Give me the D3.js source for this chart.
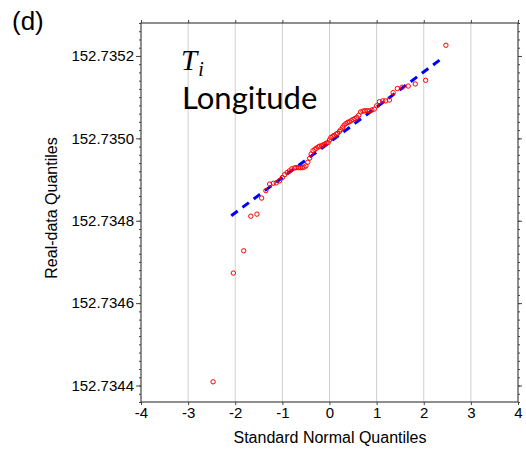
<!DOCTYPE html>
<html>
<head>
<meta charset="utf-8">
<script src="https://cdn.jsdelivr.net/npm/d3@7"></script>
<style>
  body { margin: 0; background: #fff; }
  text { font-family: "Liberation Sans", Arial, sans-serif; }
</style>
</head>
<body>
<div id="chart"></div>
<script>
// theoretical (standard normal) quantiles
const qx = [-2.47, -2.04, -1.82, -1.67, -1.54, -1.44, -1.35, -1.27, -1.19, -1.13,
  -1.06, -1.0, -0.95, -0.9, -0.85, -0.8, -0.75, -0.71, -0.66, -0.62,
  -0.58, -0.54, -0.5, -0.46, -0.42, -0.39, -0.35, -0.31, -0.28, -0.24,
  -0.21, -0.17, -0.14, -0.1, -0.07, -0.03, 0.0, 0.03, 0.07, 0.1,
  0.14, 0.17, 0.21, 0.24, 0.28, 0.31, 0.35, 0.39, 0.42, 0.46,
  0.5, 0.54, 0.58, 0.62, 0.66, 0.71, 0.75, 0.8, 0.85, 0.9,
  0.95, 1.0, 1.06, 1.13, 1.19, 1.27, 1.35, 1.44, 1.54, 1.67,
  1.82, 2.04, 2.47];
// sorted real data (longitude)
const qy = [152.734409, 152.734673, 152.734727, 152.734811, 152.734816, 152.734855, 152.734873, 152.734889, 152.734891, 152.734892,
  152.734897, 152.734905, 152.734912, 152.734917, 152.734921, 152.734926, 152.734928, 152.734929, 152.734929, 152.734929,
  152.734929, 152.734930, 152.734933, 152.734942, 152.734952, 152.734962, 152.734970, 152.734973, 152.734976, 152.734979,
  152.734981, 152.734982, 152.734984, 152.734986, 152.734988, 152.734990, 152.734996, 152.735002, 152.735005, 152.735007,
  152.735010, 152.735012, 152.735017, 152.735021, 152.735027, 152.735032, 152.735036, 152.735039, 152.735040, 152.735043,
  152.735046, 152.735048, 152.735051, 152.735056, 152.735064, 152.735066, 152.735067, 152.735067, 152.735067, 152.735069,
  152.735071, 152.735079, 152.735089, 152.735091, 152.735091, 152.735093, 152.735111, 152.735121, 152.735124, 152.735127,
  152.735132, 152.735141, 152.735226];
// reference line end points
const fitX = [-2.085, 2.43];
const fitY = [152.734812, 152.735198];

const xTicks = [-4, -3, -2, -1, 0, 1, 2, 3, 4];
const yTicks = [152.7344, 152.7346, 152.7348, 152.7350, 152.7352];
const yTickLabels = ['152.7344', '152.7346', '152.7348', '152.7350', '152.7352'];

const width = 526, height = 451;
const mLeft = 141, mRight = 518, mTop = 23, mBottom = 402;

const svg = d3.select('#chart').append('svg')
  .attr('width', width).attr('height', height);

const x = d3.scaleLinear().domain([-4, 4]).range([mLeft, mRight]);
const y = d3.scaleLinear().domain([152.73436, 152.73528]).range([mBottom, mTop]);

// vertical grid
svg.append('g').selectAll('line')
  .data(xTicks.slice(1, -1))
  .enter().append('line')
  .attr('x1', d => x(d)).attr('x2', d => x(d))
  .attr('y1', mTop).attr('y2', mBottom)
  .attr('stroke', '#cfcfcf').attr('stroke-width', 1);

// axes
const axisColor = '#444';
const xb = svg.append('g').attr('transform', `translate(0,${mBottom})`)
  .call(d3.axisBottom(x).tickValues(xTicks).tickSize(3).tickPadding(2).tickSizeOuter(0).tickFormat(d3.format('d')));
const xt = svg.append('g').attr('transform', `translate(0,${mTop})`)
  .call(d3.axisTop(x).tickValues(xTicks).tickSize(3).tickSizeOuter(0).tickFormat(''));

const minor = d3.range(0, 47).map(i => 152.73436 + i * 0.00002);
const yl = svg.append('g').attr('transform', `translate(${mLeft},0)`)
  .call(d3.axisLeft(y).tickValues(minor).tickSize(2).tickSizeOuter(0).tickFormat(''));
const yr = svg.append('g').attr('transform', `translate(${mRight},0)`)
  .call(d3.axisRight(y).tickValues(minor).tickSize(2).tickSizeOuter(0).tickFormat(''));
const ylM = svg.append('g').attr('transform', `translate(${mLeft},0)`)
  .call(d3.axisLeft(y).tickValues(yTicks).tickSize(5).tickPadding(2).tickSizeOuter(0)
    .tickFormat((d, i) => yTickLabels[i]));
const yrM = svg.append('g').attr('transform', `translate(${mRight},0)`)
  .call(d3.axisRight(y).tickValues(yTicks).tickSize(4).tickSizeOuter(0).tickFormat(''));

[xb, xt, yl, yr, ylM, yrM].forEach(g => {
  g.select('.domain').remove();
  g.selectAll('line').attr('stroke', axisColor);
  g.selectAll('text').attr('fill', '#000').style('font-size', '15px')
    .style('font-family', '"Liberation Sans", Arial, sans-serif');
});
xb.selectAll('text').text(d => d < 0 ? '-' + Math.abs(d) : d);

// box
svg.append('rect')
  .attr('x', mLeft).attr('y', mTop)
  .attr('width', mRight - mLeft).attr('height', mBottom - mTop)
  .attr('fill', 'none').attr('stroke', axisColor).attr('stroke-width', 1.2);

// fitted line
svg.append('line')
  .attr('x1', x(fitX[0])).attr('y1', y(fitY[0]))
  .attr('x2', x(fitX[1])).attr('y2', y(fitY[1]))
  .attr('stroke', '#0000ff').attr('stroke-width', 3)
  .attr('stroke-dasharray', '8,6');

// data points
svg.append('g').selectAll('circle')
  .data(qx.map((d, i) => [d, qy[i]]))
  .enter().append('circle')
  .attr('cx', d => x(d[0])).attr('cy', d => y(d[1]))
  .attr('r', 2.2)
  .attr('fill', 'none').attr('stroke', '#ff0000').attr('stroke-width', 1);

// labels
svg.append('text').attr('x', 330).attr('y', 443)
  .attr('text-anchor', 'middle').style('font-size', '16px')
  .text('Standard Normal Quantiles');
svg.append('text')
  .attr('transform', 'translate(57,208) rotate(-90)')
  .attr('text-anchor', 'middle').style('font-size', '16px')
  .text('Real-data Quantiles');
svg.append('text').attr('x', 12).attr('y', 30)
  .style('font-size', '26px').text('(d)');

const ti = svg.append('text').attr('x', 181).attr('y', 70)
  .style('font-family', '"Liberation Serif", "DejaVu Serif", serif')
  .style('font-style', 'italic').style('font-size', '29px')
  .text('T');
ti.append('tspan').attr('dx', 1).attr('dy', 6)
  .style('font-size', '20px').text('i');
svg.append('text').attr('x', 182).attr('y', 109)
  .style('font-family', 'Lato, "Open Sans", sans-serif')
  .style('font-size', '31px')
  .text('Longitude');
</script>
</body>
</html>
